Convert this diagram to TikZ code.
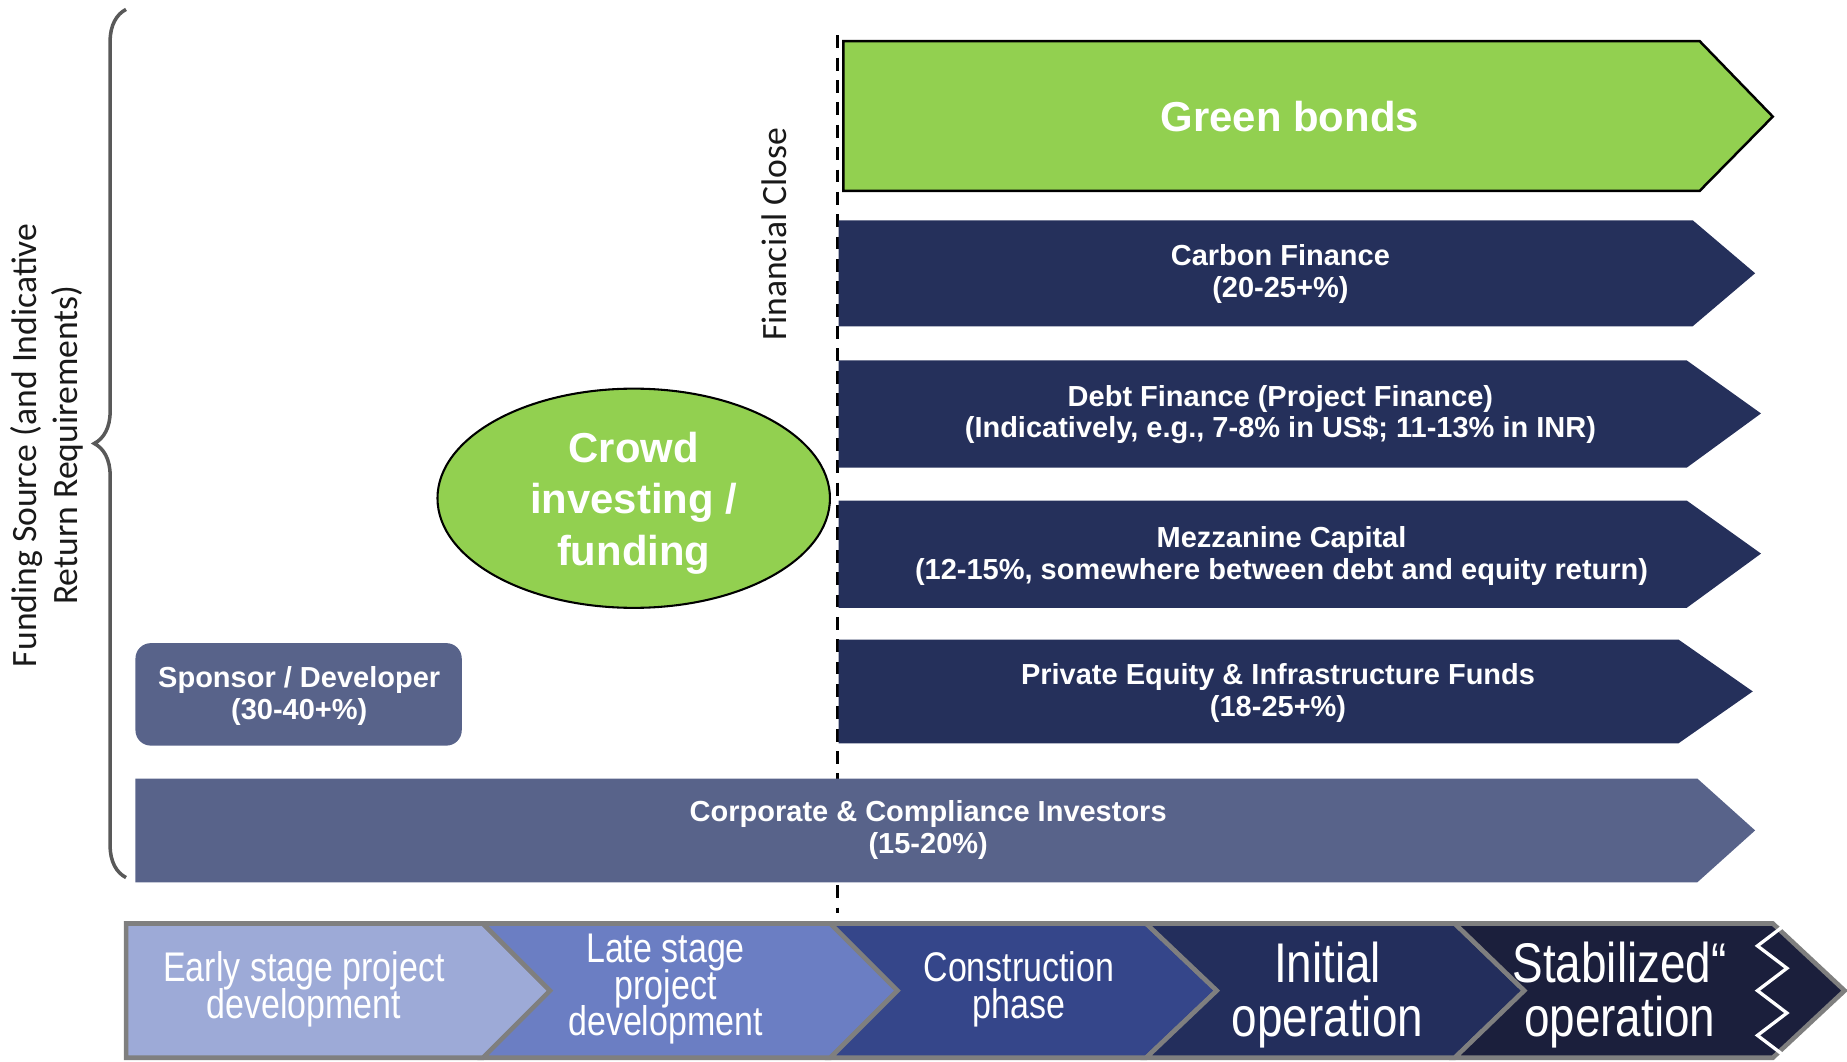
\documentclass[tikz,border=0pt]{standalone}
\usepackage{fontspec}
\setmainfont{Liberation Sans}
\newfontfamily\narrowfont{Liberation Sans}[FakeStretch=0.82]
\newfontfamily\calfont{Carlito}
\usetikzlibrary{decorations.pathreplacing}

\begin{document}
\begin{tikzpicture}[x=0.01cm, y=-0.01cm,
  fundtext/.style={text=white, font=\bfseries\fontsize{7}{7.7}\selectfont, align=center},
  greentext/.style={text=white, font=\bfseries\fontsize{10.1}{12.4}\selectfont, align=center},
  phasetext/.style={text=white, font=\narrowfont\fontsize{10}{8.8}\selectfont, align=center, execute at begin node={\lineskiplimit=-100pt\relax}},
  bigphase/.style={text=white, font=\narrowfont\fontsize{13.5}{13.1}\selectfont, align=center, execute at begin node={\lineskiplimit=-100pt\relax}},
  sidetext/.style={text=black!90, font=\calfont\fontsize{8.6}{10}\selectfont, align=center, rotate=90}]
\definecolor{grass}{HTML}{92D050}
\definecolor{fundnavy}{HTML}{25305B}
\definecolor{slate}{HTML}{58638A}
\definecolor{phaseone}{HTML}{9DAAD7}
\definecolor{phasetwo}{HTML}{6B7EC3}
\definecolor{phasethree}{HTML}{35468A}
\definecolor{phasefour}{HTML}{232E5C}
\definecolor{phasefive}{HTML}{1B1F3C}
\definecolor{phasegray}{HTML}{7F7F7F}
\definecolor{bracegray}{HTML}{595959}
\useasboundingbox (0,0) rectangle (1568,901);
%Brace and its label:
\draw[color=bracegray, line width=0.85pt, decorate, decoration={brace, amplitude=0.27cm}] (107,745) -- (107,8);
\node[sidetext] (fundlabel) at (40,378) {Funding Source (and Indicative\\Return Requirements)};
%Financial close:
\coordinate (closetop) at (711,30);
\coordinate (closebot) at (711,775);
\draw[line width=0.85pt, dash pattern=on 3.1pt off 2.3pt] (closetop) -- (closebot);
\node[sidetext] (closelabel) at (657,199) {Financial Close};
%Funding arrows:
\path[fill=grass] (716,35) -- (1443,35) -- (1505,99) -- (1443,162) -- (716,162) -- cycle;
\draw[line width=0.6pt] (716,35) -- (1443,35) -- (1505,99) -- (1443,162) -- (716,162) -- cycle;
\path[fill=fundnavy] (712,187) -- (1437,187) -- (1490,232) -- (1437,277) -- (712,277) -- cycle;
\path[fill=fundnavy] (712,306) -- (1432,306) -- (1495,351) -- (1432,397) -- (712,397) -- cycle;
\path[fill=fundnavy] (712,425) -- (1432,425) -- (1495,470) -- (1432,516) -- (712,516) -- cycle;
\path[fill=fundnavy] (712,543) -- (1425,543) -- (1488,587) -- (1425,631) -- (712,631) -- cycle;
\path[fill=slate] (115,661) -- (1441,661) -- (1490,705) -- (1441,749) -- (115,749) -- cycle;
\path[fill=slate, rounded corners=0.13cm] (115,546) rectangle (392,633);
\draw[fill=grass, line width=0.5pt] (538,423) ellipse [x radius=1.665cm, y radius=0.93cm];
%Funding texts:
\node[greentext] (green) at (1095,99) {Green bonds};
\node[fundtext] (carbon) at (1087,233) {Carbon Finance\\(20-25+\%)};
\node[fundtext] (debt) at (1087,352) {Debt Finance (Project Finance)\\(Indicatively, e.g., 7-8\% in US\$; 11-13\% in INR)};
\node[fundtext] (mezz) at (1088,472) {Mezzanine Capital\\(12-15\%, somewhere between debt and equity return)};
\node[fundtext] (equity) at (1085,588) {Private Equity \& Infrastructure Funds\\(18-25+\%)};
\node[fundtext] (corporate) at (788,705) {Corporate \& Compliance Investors\\(15-20\%)};
\node[fundtext] (sponsor) at (254,591) {Sponsor / Developer\\(30-40+\%)};
\node[greentext] (crowd) at (538,427) {Crowd\\investing /\\funding};
%Phases:
\draw[fill=phaseone, draw=phasegray, line width=1.1pt] (107,784) -- (410,784) -- (467,841) -- (410,898) -- (107,898) -- cycle;
\draw[fill=phasetwo, draw=phasegray, line width=1.1pt] (410,784) -- (705,784) -- (762,841) -- (705,898) -- (410,898) -- (467,841) -- cycle;
\draw[fill=phasethree, draw=phasegray, line width=1.1pt] (705,784) -- (973,784) -- (1033,841) -- (973,898) -- (705,898) -- (762,841) -- cycle;
\draw[fill=phasefour, draw=phasegray, line width=1.1pt] (973,784) -- (1235,784) -- (1294,841) -- (1235,898) -- (973,898) -- (1033,841) -- cycle;
\draw[fill=phasefive, draw=phasegray, line width=1.1pt] (1235,784) -- (1505,784) -- (1566,841) -- (1505,898) -- (1235,898) -- (1294,841) -- cycle;
\draw[white, line width=0.8pt] (1517,784) -- (1492,803) -- (1517,822) -- (1492,841) -- (1517,860) -- (1492,879) -- (1517,898);
\node[phasetext] (early) at (258,840) {Early stage project\\development};
\node[phasetext] (late) at (565,840) {Late stage\\project\\development};
\node[phasetext] (build) at (865,840) {Construction\\phase};
\node[bigphase] (initial) at (1127,845) {Initial\\operation};
\node[bigphase] (stable) at (1375,845) {Stabilized“\\operation};
\end{tikzpicture}
\end{document}
